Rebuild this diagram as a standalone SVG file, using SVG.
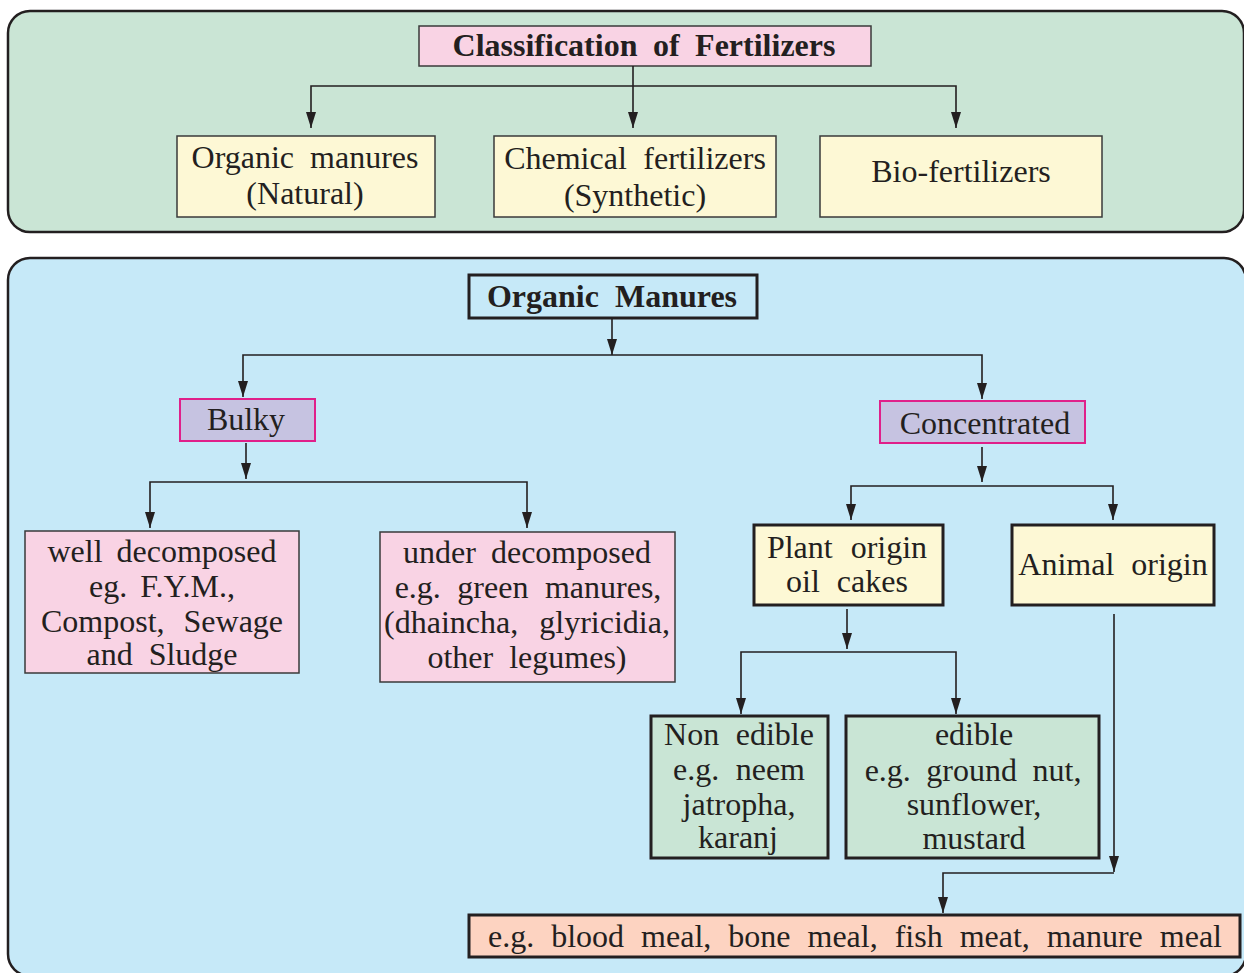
<svg xmlns="http://www.w3.org/2000/svg" width="1244" height="973" viewBox="0 0 1244 973">
<defs>
<marker id="ah" viewBox="0 0 16 10" refX="16" refY="5" markerWidth="16" markerHeight="10" markerUnits="userSpaceOnUse" orient="auto">
<path d="M0,0 L16,5 L0,10 z" fill="#231f20"/>
</marker>
<style>
.panel{stroke:#231f20;stroke-width:2.5}
.t{font-size:32px;fill:#231f20;text-anchor:middle}
.b{font-weight:bold}
.thin{stroke:#3a3a3a;stroke-width:1.5}
.thick{stroke:#231f20;stroke-width:3}
.mag{stroke:#e0208a;stroke-width:2;fill:#c6c3e1}
.yel{fill:#fdf8d5}
.pink{fill:#f9d3e4}
.grn{fill:#c9e5d5}
.con{fill:none;stroke:#231f20;stroke-width:1.6;marker-end:url(#ah)}
</style>
</defs>
<rect class="panel" x="8" y="11" width="1236" height="221" rx="22" fill="#cae5d5"/>
<rect class="panel" x="8" y="258" width="1238" height="718" rx="22" fill="#c6e9f8"/>
<g font-family="Liberation Serif, Times New Roman, serif">
<g id="title">
<rect class="thin pink" x="419" y="26" width="452" height="40"/>
<text class="t b" x="644" y="56" word-spacing="7.5">Classification of Fertilizers</text>
</g>
<g id="organic">
<rect class="thin yel" x="177" y="136" width="258" height="81"/>
<text class="t" x="305" y="168" word-spacing="8">Organic manures</text>
<text class="t" x="305" y="204">(Natural)</text>
</g>
<g id="chemical">
<rect class="thin yel" x="494" y="136" width="282" height="81"/>
<text class="t" x="635" y="169" word-spacing="8.5">Chemical fertilizers</text>
<text class="t" x="635" y="206">(Synthetic)</text>
</g>
<g id="bio">
<rect class="thin yel" x="820" y="136" width="282" height="81"/>
<text class="t" x="961" y="182">Bio-fertilizers</text>
</g>

<g id="organic-manures">
<rect class="thick" fill="none" x="469" y="275" width="288" height="43"/>
<text class="t b" x="612" y="307" word-spacing="8">Organic Manures</text>
</g>
<g id="bulky">
<rect class="mag" x="180" y="399" width="135" height="42"/>
<text class="t" x="246" y="430">Bulky</text>
</g>
<g id="concentrated">
<rect class="mag" x="880" y="401" width="205" height="42"/>
<text class="t" x="985" y="434">Concentrated</text>
</g>
<g id="well">
<rect class="thin pink" x="25" y="531" width="274" height="142"/>
<text class="t" x="162" y="562" word-spacing="6">well decomposed</text>
<text class="t" x="162" y="597" word-spacing="5">eg. F.Y.M.,</text>
<text class="t" x="162" y="632" word-spacing="11">Compost, Sewage</text>
<text class="t" x="162" y="665" word-spacing="8">and Sludge</text>
</g>
<g id="under">
<rect class="thin pink" x="380" y="532" width="295" height="150"/>
<text class="t" x="527" y="563" word-spacing="7">under decomposed</text>
<text class="t" x="528" y="598" word-spacing="8.5">e.g. green manures,</text>
<text class="t" x="527" y="633" word-spacing="13">(dhaincha, glyricidia,</text>
<text class="t" x="527" y="668" word-spacing="8">other legumes)</text>
</g>
<g id="plant">
<rect class="thick yel" x="754" y="525" width="189" height="80"/>
<text class="t" x="847" y="558" word-spacing="10">Plant origin</text>
<text class="t" x="847" y="592" word-spacing="9">oil cakes</text>
</g>
<g id="animal">
<rect class="thick yel" x="1012" y="525" width="202" height="80"/>
<text class="t" x="1113" y="575" word-spacing="9">Animal origin</text>
</g>
<g id="nonedible">
<rect class="thick grn" x="651" y="716" width="177" height="142"/>
<text class="t" x="739" y="745" word-spacing="8.5">Non edible</text>
<text class="t" x="739" y="780" word-spacing="8.5">e.g. neem</text>
<text class="t" x="739" y="815">jatropha,</text>
<text class="t" x="738" y="848">karanj</text>
</g>
<g id="edible">
<rect class="thick grn" x="846" y="716" width="253" height="142"/>
<text class="t" x="974" y="745">edible</text>
<text class="t" x="973" y="781" word-spacing="7.5">e.g. ground nut,</text>
<text class="t" x="974" y="815">sunflower,</text>
<text class="t" x="974" y="849">mustard</text>
</g>
<g id="examples">
<rect class="thick" fill="#fdd3c1" x="469" y="915" width="771" height="42"/>
<text class="t" x="855" y="947" word-spacing="9">e.g. blood meal, bone meal, fish meat, manure meal</text>
</g>
</g>
<g id="connectors">
<path class="con" d="M633,66 V128"/>
<path class="con" d="M633,86 H311 V128"/>
<path class="con" d="M633,86 H956 V128"/>
<path class="con" d="M612,318 V355"/>
<path class="con" d="M612,355 H243 V397"/>
<path class="con" d="M612,355 H982 V399"/>
<path class="con" d="M246,443 V479"/>
<path class="con" d="M246,482 H150 V528"/>
<path class="con" d="M246,482 H527 V528"/>
<path class="con" d="M982,447 V482"/>
<path class="con" d="M982,486 H851 V520"/>
<path class="con" d="M982,486 H1113 V520"/>
<path class="con" d="M847,609 V649"/>
<path class="con" d="M847,652 H741 V714"/>
<path class="con" d="M847,652 H956 V714"/>
<path class="con" d="M1114,614 V872"/>
<path class="con" d="M1114,873 H943 V913"/>
</g>
</svg>
